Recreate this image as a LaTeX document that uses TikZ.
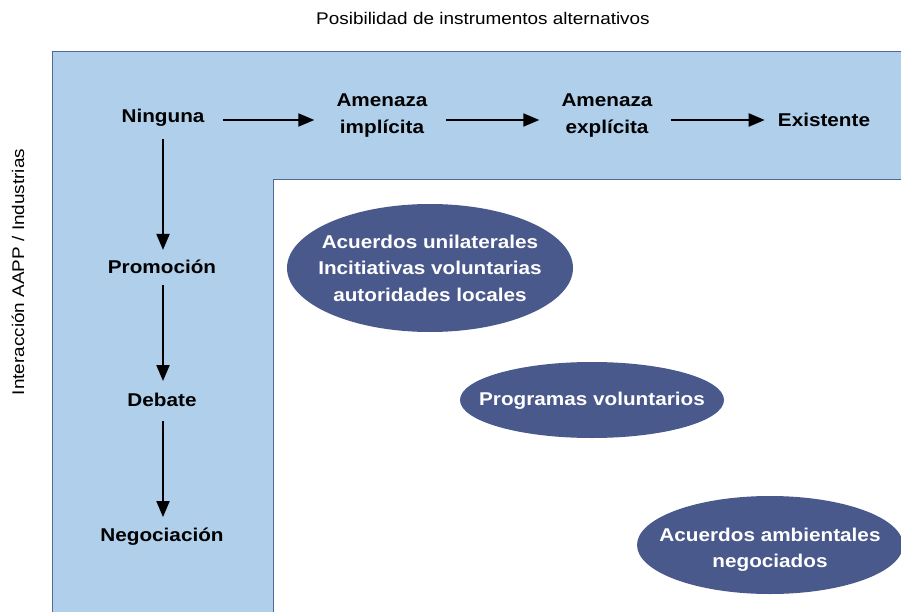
\documentclass[tikz,border=0pt]{standalone}
\usepackage{fontspec}
\setmainfont[FakeStretch=1.12]{Liberation Sans}
\usetikzlibrary{arrows.meta}
\definecolor{bgblue}{RGB}{175,207,235}
\definecolor{edgeblue}{RGB}{84,104,152}
\definecolor{ellblue}{RGB}{74,89,140}
\begin{document}
\begin{tikzpicture}[x=1pt,y=-1pt,
  lbl/.style={font=\fontsize{18.5}{27}\selectfont\bfseries,align=center,inner sep=0pt},
  axis/.style={font=\fontsize{16.9}{20}\selectfont,inner sep=0pt},
  elltext/.style={text=white,inner sep=0pt,
    font=\fontsize{18.5}{26.5}\selectfont\bfseries,align=center},
  ellfill/.style={fill=ellblue},
  arr/.style={-{Triangle[length=16pt,width=13pt]},line width=2pt}]
\useasboundingbox (0,0) rectangle (901,612);
% background regions
\fill[bgblue] (52,52) rectangle (905,615);
\draw[edgeblue,line width=1pt] (52,615) -- (52,52) -- (905,52);
\fill[white] (273,180) rectangle (905,615);
\draw[edgeblue,line width=1pt] (273,615) -- (273,180) -- (905,180);
% axis labels
\node[axis] (top) at (483,18) {Posibilidad de instrumentos alternativos};
\node[axis,rotate=90] (left) at (18,272) {Interacción AAPP / Industrias};
% horizontal chain
\node[lbl] (ning) at (163,118) {Ninguna};
\node[lbl] (imp) at (382,116) {Amenaza\\implícita};
\node[lbl] (exp) at (607,116) {Amenaza\\explícita};
\node[lbl] (exis) at (824,120) {Existente};
% vertical chain
\node[lbl] (prom) at (162,267) {Promoción};
\node[lbl] (deb) at (162,400) {Debate};
\node[lbl] (neg) at (162,537) {Negociación};
% arrows
\draw[arr,shorten <=18pt,shorten >=22pt] ([yshift=-2pt]ning.east) -- ([yshift=-2pt]imp.west |- ning.east);
\draw[arr,shorten <=18pt,shorten >=22pt] ([yshift=-2pt]imp.east |- ning.east) -- ([yshift=-2pt]exp.west |- ning.east);
\draw[arr,shorten <=18pt,shorten >=13pt] ([yshift=-2pt]exp.east |- ning.east) -- ([yshift=-2pt]exis.west |- ning.east);
\draw[arr,shorten <=12pt,shorten >=10pt] (ning.south) -- (ning.south |- prom.north);
\draw[arr,shorten <=11pt,shorten >=12pt] (ning.south |- prom.south) -- (ning.south |- deb.north);
\draw[arr,shorten <=14pt,shorten >=11pt] (ning.south |- deb.south) -- (ning.south |- neg.north);
% ellipses
\fill[ellfill] (430,268) ellipse [x radius=143, y radius=64];
\node[elltext] (e1) at (430,268)
  {Acuerdos unilaterales\\Incitiativas voluntarias\\autoridades locales};
\fill[ellfill] (592,400) ellipse [x radius=132, y radius=38];
\node[elltext] (e2) at (592,401) {Programas voluntarios};
\fill[ellfill] (770,545) ellipse [x radius=133, y radius=49];
\node[elltext] (e3) at (770,550) {Acuerdos ambientales\\negociados};
\end{tikzpicture}
\end{document}
